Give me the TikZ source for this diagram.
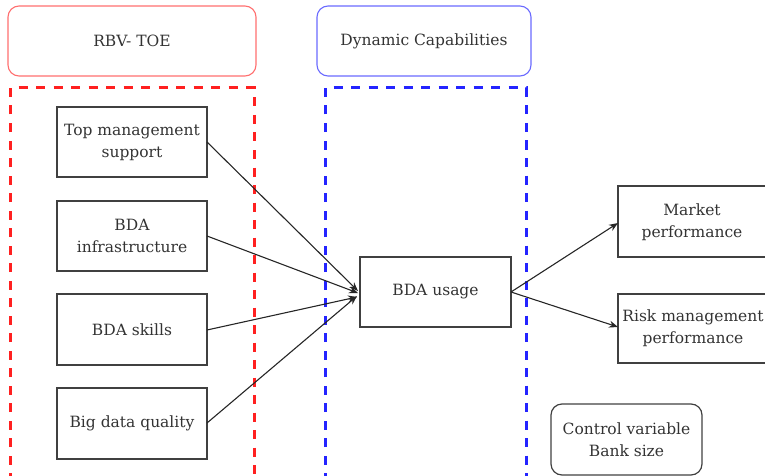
\documentclass[tikz,border=0pt]{standalone}
\usepackage{fontspec}
\setmainfont{DejaVu Serif}
\newfontfamily\diagfont{DejaVu Serif}
\usetikzlibrary{arrows.meta}
\definecolor{txt}{HTML}{333333}
\definecolor{edge}{HTML}{404040}
\definecolor{lred}{HTML}{FF6F6F}
\definecolor{lblue}{HTML}{6A6AFF}
\definecolor{dred}{HTML}{FF2020}
\definecolor{dblue}{HTML}{2424FF}
\begin{document}
\begin{tikzpicture}[x=1pt,y=-1pt,
  every node/.style={font=\diagfont\fontsize{15.5}{22}\selectfont, text=txt, align=center},
  plainbox/.style={draw=edge, line width=1.2pt},
  headbox/.style={line width=1.1pt, rounded corners=11pt},
  group/.style={line width=3pt, dash pattern=on 9pt off 8.5pt},
  conn/.style={draw=black!85, line width=1.1pt, -{Stealth[length=9pt,width=7pt]}}
]
\useasboundingbox (0,0) rectangle (765,476);
% header boxes
\draw[headbox, draw=lred] (8,6) rectangle (256,76);
\node (rbv) at (132,41) {RBV- TOE};
\draw[headbox, draw=lblue] (317,6) rectangle (531,76);
\node (dyn) at (424,41) {Dynamic Capabilities};
% dashed groups
\draw[group, draw=dred] (10,482) -- (10,88) -- (254,88) -- (254,482);
\draw[group, draw=dblue] (325,482) -- (325,88) -- (526,88) -- (526,482);
% left boxes
\draw[plainbox] (57,107) rectangle (207,177);
\node (tms) at (132,142) {Top management\\support};
\coordinate (tmsE) at (207,142);
\draw[plainbox] (57,201) rectangle (207,271);
\node (inf) at (132,236) {BDA\\infrastructure};
\coordinate (infE) at (207,236);
\draw[plainbox] (57,294) rectangle (207,365);
\node (skl) at (132,330) {BDA skills};
\coordinate (sklE) at (207,330);
\draw[plainbox] (57,388) rectangle (207,459);
\node (bdq) at (132,423) {Big data quality};
\coordinate (bdqE) at (207,423);
% centre
\draw[plainbox] (360,257) rectangle (511,327);
\node (use) at (435.5,292) {BDA usage};
\coordinate (useE) at (511,292);
% right boxes
\draw[plainbox] (770,186) -- (618,186) -- (618,257) -- (770,257);
\node (mkt) at (692,222) {Market\\performance};
\coordinate (mktW) at (618,223);
\draw[plainbox] (770,294) -- (618,294) -- (618,363) -- (770,363);
\node (risk) at (693,328) {Risk management\\performance};
\coordinate (riskW) at (618,327);
% control variable
\draw[plainbox, rounded corners=11pt] (551,404) rectangle (702,475);
\node (ctl) at (626.5,439.5) {Control variable\\Bank size};
% connectors
\draw[conn] (tmsE) -- (358,291);
\draw[conn] (infE) -- (358,293);
\draw[conn] (sklE) -- (357,297);
\draw[conn] (bdqE) -- (357,296);
\draw[conn] (useE) -- (mktW);
\draw[conn] (useE) -- (riskW);
\end{tikzpicture}
\end{document}
